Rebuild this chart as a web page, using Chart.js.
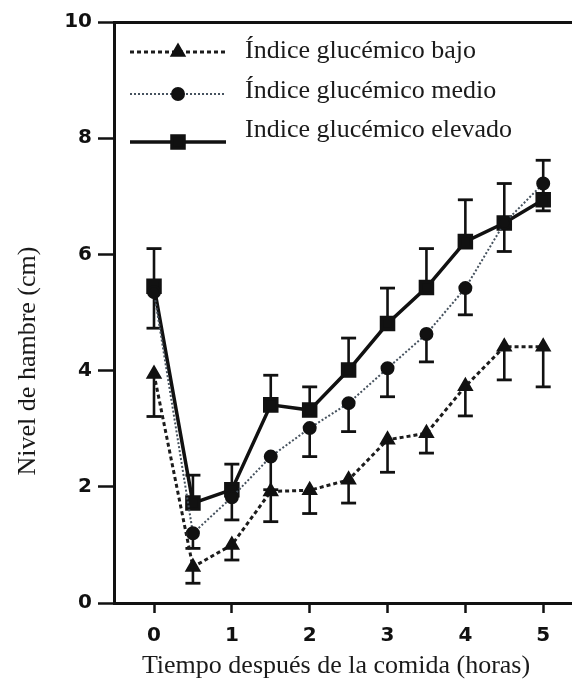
<!DOCTYPE html>
<html>
<head>
<meta charset="utf-8">
<script src="https://cdn.jsdelivr.net/npm/chart.js@4.4.1/dist/chart.umd.min.js"></script>
<style>
  html, body { margin: 0; padding: 0; background: #ffffff; }
  #wrap { width: 572px; height: 692px; position: relative; }
</style>
</head>
<body>
<div id="wrap"><canvas id="c" width="572" height="692"></canvas></div>
<script>
// Time after the meal (hours)
const hours = [0, 0.5, 1, 1.5, 2, 2.5, 3, 3.5, 4, 4.5, 5];
const xTickValues = [0, 1, 2, 3, 4, 5];
const yTickValues = [0, 2, 4, 6, 8, 10];

const seriesNames = [
  'Índice glucémico bajo',
  'Índice glucémico medio',
  'Indice glucémico elevado'
];

// Hunger level (cm) and error (cm) per group
const bajo     = [3.94, 0.62, 1.00, 1.92, 1.94, 2.12, 2.81, 2.92, 3.73, 4.41, 4.41];
const bajoErr  = [0.73, 0.28, 0.26, 0.52, 0.40, 0.40, 0.56, 0.34, 0.51, 0.57, 0.69];
const medio    = [5.35, 1.20, 1.82, 2.52, 3.01, 3.44, 4.04, 4.63, 5.42, 6.54, 7.22];
const medioErr = [0.62, 0.26, 0.39, 0.57, 0.49, 0.49, 0.49, 0.48, 0.46, 0.49, 0.47];
const elevado    = [5.45, 1.72, 1.95, 3.41, 3.32, 4.01, 4.81, 5.43, 6.22, 6.54, 6.94];
const elevadoErr = [0.65, 0.48, 0.44, 0.51, 0.40, 0.55, 0.61, 0.67, 0.72, 0.68, 0.68];

const xTitle = 'Tiempo después de la comida (horas)';
const yTitle = 'Nivel de hambre (cm)';

const INK = '#111111';
const SERIF = '"Liberation Serif", "Times New Roman", serif';
const TICK_FONT = { family: '"DejaVu Sans", Arial, sans-serif', size: 20, weight: 'bold' };

function points(values) {
  return hours.map((h, i) => ({ x: h, y: values[i] }));
}

// Error bars: one-sided "T" whiskers, direction set per dataset
const errorBars = {
  id: 'errorBars',
  beforeDatasetsDraw(chart) {
    const { ctx, scales: { x, y } } = chart;
    ctx.save();
    ctx.strokeStyle = INK;
    ctx.lineCap = 'butt';
    chart.data.datasets.forEach((ds) => {
      const errs = ds.errors;
      const dir = ds.errorDir;
      hours.forEach((h, i) => {
        const v = ds.data[i].y;
        const px = x.getPixelForValue(h);
        const p0 = y.getPixelForValue(v);
        const p1 = y.getPixelForValue(v + dir * errs[i]);
        ctx.lineWidth = 2.6;
        ctx.beginPath();
        ctx.moveTo(px, p0);
        ctx.lineTo(px, p1);
        ctx.stroke();
        ctx.lineWidth = 2.8;
        ctx.beginPath();
        ctx.moveTo(px - 7.5, p1);
        ctx.lineTo(px + 7.5, p1);
        ctx.stroke();
      });
    });
    ctx.restore();
  }
};

// Legend inside the plot (top-left) and the two axis titles
const annotations = {
  id: 'annotations',
  afterDraw(chart) {
    const { ctx } = chart;
    const lineRows = [52, 94, 142];
    const textRows = [51, 91, 130];
    const x0 = 130, x1 = 226, xm = 178, xt = 245;
    ctx.save();
    chart.data.datasets.forEach((ds, i) => {
      const yy = lineRows[i];
      ctx.strokeStyle = ds.borderColor;
      ctx.lineWidth = ds.borderWidth;
      ctx.setLineDash(ds.borderDash || []);
      ctx.beginPath();
      ctx.moveTo(x0, yy);
      ctx.lineTo(x1, yy);
      ctx.stroke();
      ctx.setLineDash([]);
      ctx.fillStyle = INK;
      ctx.strokeStyle = INK;
      Chart.helpers.drawPoint(ctx, {
        pointStyle: ds.pointStyle,
        radius: ds.pointRadius,
        borderWidth: 1,
        rotation: 0
      }, xm, yy);
      ctx.fillStyle = '#1a1a1a';
      ctx.font = '26px ' + SERIF;
      ctx.textBaseline = 'middle';
      ctx.textAlign = 'left';
      ctx.fillText(ds.label, xt, textRows[i]);
    });

    ctx.fillStyle = '#1a1a1a';
    ctx.font = '26px ' + SERIF;
    ctx.textAlign = 'center';
    ctx.textBaseline = 'middle';
    ctx.fillText(xTitle, 336, 666);

    ctx.translate(28, 361);
    ctx.rotate(-Math.PI / 2);
    ctx.fillText(yTitle, 0, 0);
    ctx.restore();
  }
};

const chart = new Chart(document.getElementById('c'), {
  type: 'line',
  data: {
    datasets: [
      {
        label: seriesNames[0],
        data: points(bajo),
        errors: bajoErr,
        errorDir: -1,
        borderColor: '#1c1c1c',
        borderWidth: 3,
        borderDash: [4, 3],
        pointStyle: 'triangle',
        pointRadius: 6.5,
        pointBackgroundColor: INK,
        pointBorderColor: INK
      },
      {
        label: seriesNames[1],
        data: points(medio),
        errors: medioErr,
        errorDir: -1,
        borderColor: '#46525e',
        borderWidth: 2,
        borderDash: [2, 2],
        pointStyle: 'circle',
        pointRadius: 6,
        pointBackgroundColor: INK,
        pointBorderColor: INK
      },
      {
        label: seriesNames[2],
        data: points(elevado),
        errors: elevadoErr,
        errorDir: 1,
        borderColor: INK,
        borderWidth: 3.5,
        pointStyle: 'rect',
        pointRadius: 8.5,
        pointBackgroundColor: INK,
        pointBorderColor: INK
      }
    ]
  },
  options: {
    responsive: false,
    animation: false,
    devicePixelRatio: 1,
    clip: false,
    layout: { autoPadding: false, padding: { left: 0, right: 0, top: 22, bottom: 0 } },
    elements: { line: { tension: 0, fill: false } },
    plugins: {
      legend: { display: false },
      tooltip: { enabled: false }
    },
    scales: {
      x: {
        type: 'linear',
        min: -0.514,
        max: 5.37,
        afterBuildTicks: (s) => { s.ticks = xTickValues.map(v => ({ value: v })); },
        afterFit: (s) => { s.height = 89; },
        border: { display: true, color: INK, width: 3 },
        grid: {
          drawOnChartArea: false,
          drawTicks: true,
          tickLength: 10,
          tickWidth: 2.5,
          tickColor: INK
        },
        ticks: {
          autoSkip: false,
          maxRotation: 0,
          padding: 11,
          color: INK,
          font: TICK_FONT
        }
      },
      y: {
        type: 'linear',
        min: 0,
        max: 10,
        afterBuildTicks: (s) => { s.ticks = yTickValues.map(v => ({ value: v })); },
        afterFit: (s) => { s.width = 114; },
        border: { display: true, color: INK, width: 3 },
        grid: {
          drawOnChartArea: true,
          drawTicks: true,
          tickLength: 16,
          tickWidth: 2.5,
          tickColor: INK,
          color: (c) => (c.tick && c.tick.value === 10 ? INK : 'rgba(0,0,0,0)'),
          lineWidth: 3
        },
        ticks: {
          padding: 6,
          color: INK,
          font: TICK_FONT
        }
      }
    }
  },
  plugins: [errorBars, annotations]
});
</script>
</body>
</html>
